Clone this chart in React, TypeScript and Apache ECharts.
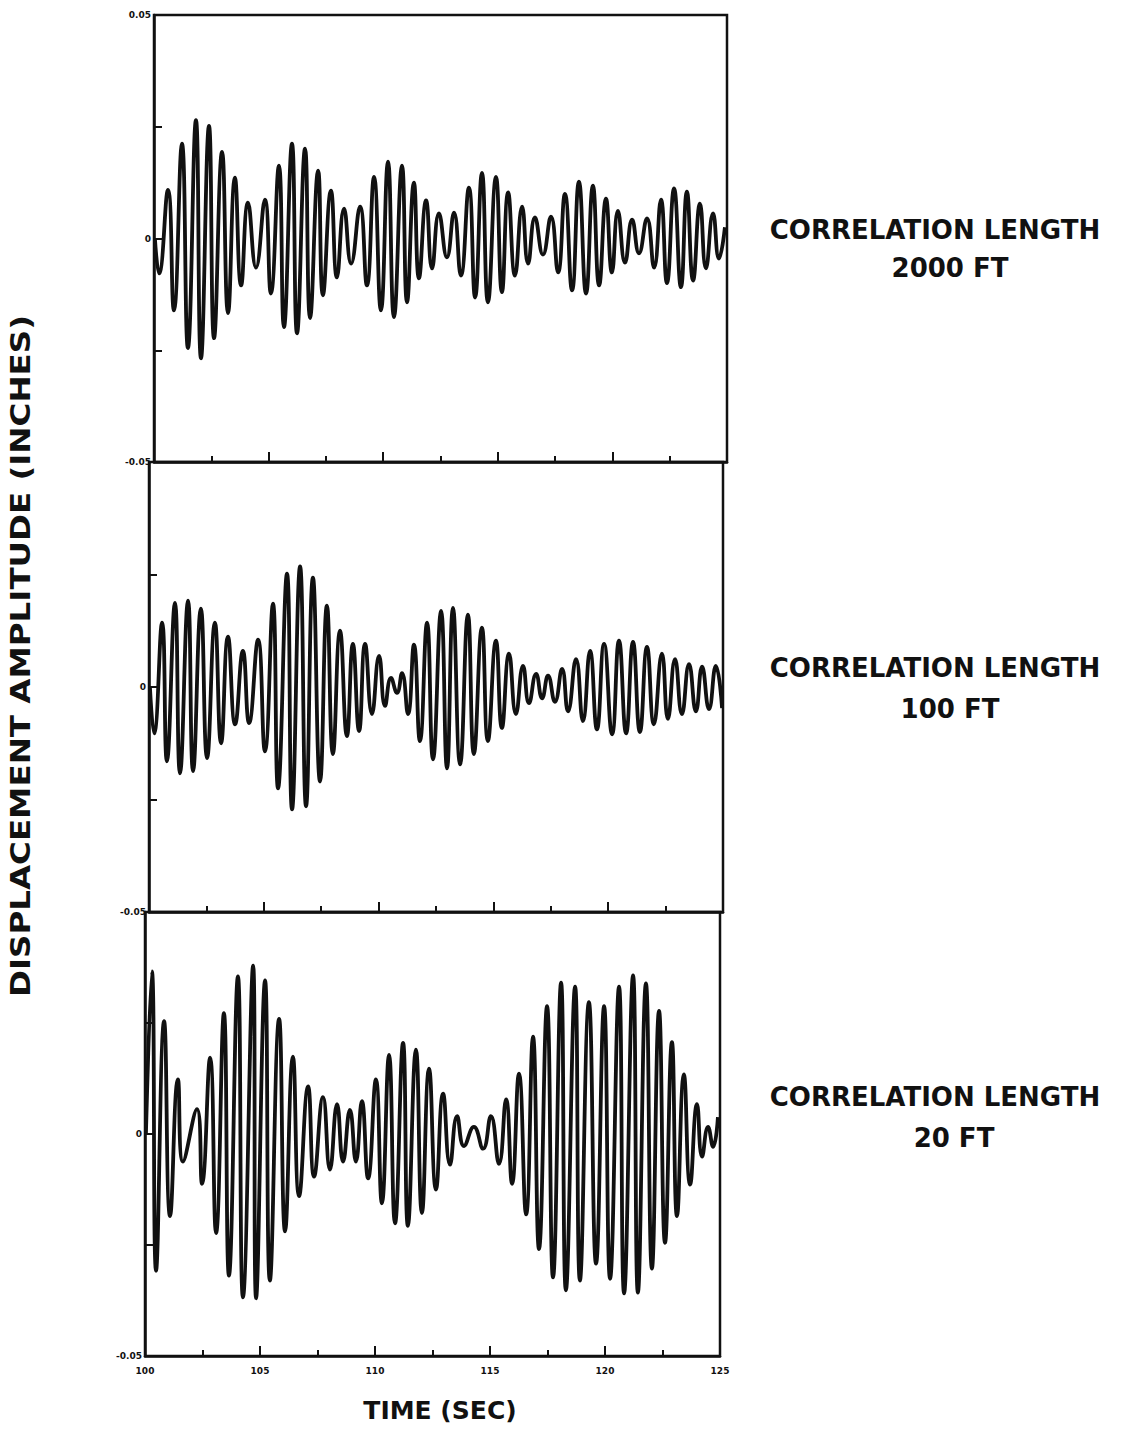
import React, { useEffect, useRef } from "react";
import * as echarts from "echarts";

// Peak / trough readings (time in seconds, displacement in inches) for each record.
const time2000 = [100.04, 100.22, 100.61, 100.87, 101.22, 101.48, 101.83, 102.05, 102.4, 102.62, 102.97, 103.23, 103.53, 103.8, 104.1, 104.45, 104.84, 105.1, 105.45, 105.67, 106.02, 106.24, 106.59, 106.81, 107.16, 107.37, 107.72, 107.98, 108.29, 108.6, 108.99, 109.29, 109.6, 109.9, 110.21, 110.47, 110.82, 111.04, 111.34, 111.56, 111.87, 112.13, 112.43, 112.78, 113.09, 113.39, 113.74, 114.01, 114.31, 114.57, 114.92, 115.18, 115.45, 115.75, 116.06, 116.32, 116.62, 116.97, 117.32, 117.63, 117.93, 118.24, 118.54, 118.85, 119.15, 119.42, 119.72, 119.98, 120.24, 120.55, 120.86, 121.16, 121.51, 121.82, 122.12, 122.38, 122.69, 122.99, 123.25, 123.52, 123.82, 124.08, 124.39, 124.65, 124.91];
const disp2000 = [0, -0.0078, 0.0109, -0.0161, 0.0212, -0.0245, 0.0265, -0.0268, 0.0252, -0.0223, 0.0194, -0.0167, 0.0136, -0.0105, 0.008, -0.0065, 0.0087, -0.0123, 0.0163, -0.0198, 0.0212, -0.0212, 0.0201, -0.0178, 0.0152, -0.0127, 0.0107, -0.0087, 0.0067, -0.0056, 0.0071, -0.0105, 0.0138, -0.0161, 0.0172, -0.0176, 0.0163, -0.0143, 0.0125, -0.0089, 0.0085, -0.0067, 0.0056, -0.0042, 0.0058, -0.0083, 0.0114, -0.0132, 0.0147, -0.0143, 0.0138, -0.012, 0.0103, -0.0083, 0.0071, -0.0056, 0.0047, -0.0036, 0.0049, -0.0076, 0.01, -0.0116, 0.0127, -0.0123, 0.0118, -0.0105, 0.0089, -0.0076, 0.0062, -0.0054, 0.0042, -0.0033, 0.0045, -0.0065, 0.0087, -0.01, 0.0112, -0.0109, 0.0105, -0.0094, 0.0078, -0.0067, 0.0056, -0.0045, 0.0025];

const time100 = [100.04, 100.22, 100.57, 100.78, 101.13, 101.35, 101.7, 101.92, 102.26, 102.53, 102.87, 103.14, 103.44, 103.75, 104.09, 104.36, 104.75, 105.05, 105.4, 105.62, 106.01, 106.23, 106.58, 106.84, 107.14, 107.45, 107.75, 108.01, 108.32, 108.62, 108.88, 109.15, 109.41, 109.71, 110.02, 110.28, 110.54, 110.8, 111.02, 111.28, 111.54, 111.8, 112.11, 112.37, 112.72, 112.98, 113.24, 113.55, 113.89, 114.15, 114.5, 114.76, 115.11, 115.37, 115.68, 115.98, 116.29, 116.55, 116.86, 117.12, 117.38, 117.68, 117.99, 118.25, 118.6, 118.9, 119.21, 119.51, 119.82, 120.17, 120.47, 120.78, 121.08, 121.38, 121.69, 121.99, 122.34, 122.6, 122.91, 123.21, 123.52, 123.82, 124.09, 124.39, 124.69, 124.96];
const disp100 = [0, -0.0103, 0.0143, -0.0165, 0.0187, -0.0192, 0.0192, -0.0187, 0.0174, -0.0158, 0.0143, -0.0125, 0.0112, -0.0083, 0.008, -0.008, 0.0105, -0.0143, 0.0185, -0.0225, 0.0252, -0.0272, 0.0268, -0.0265, 0.0243, -0.021, 0.0181, -0.0149, 0.0125, -0.0109, 0.0096, -0.0098, 0.0096, -0.006, 0.0069, -0.0042, 0.002, -0.0013, 0.0031, -0.006, 0.0094, -0.012, 0.0143, -0.0161, 0.0169, -0.0181, 0.0176, -0.0172, 0.0161, -0.0149, 0.0132, -0.012, 0.0103, -0.0091, 0.0074, -0.006, 0.0047, -0.0036, 0.0029, -0.0025, 0.0025, -0.0033, 0.004, -0.0054, 0.0062, -0.0076, 0.008, -0.0094, 0.0096, -0.0105, 0.0103, -0.0103, 0.01, -0.01, 0.0089, -0.0083, 0.0074, -0.0071, 0.0062, -0.006, 0.0051, -0.0054, 0.0045, -0.0049, 0.0047, -0.0047];

const time20 = [100.04, 100.3, 100.48, 100.83, 101.09, 101.43, 101.65, 102.26, 102.48, 102.83, 103.09, 103.43, 103.65, 104.04, 104.26, 104.7, 104.83, 105.22, 105.43, 105.83, 106.09, 106.43, 106.7, 107.09, 107.35, 107.74, 108.04, 108.35, 108.61, 108.91, 109.17, 109.43, 109.7, 110.04, 110.3, 110.61, 110.87, 111.22, 111.43, 111.78, 112.04, 112.35, 112.65, 112.96, 113.26, 113.57, 113.87, 114.3, 114.7, 115.04, 115.39, 115.7, 115.96, 116.26, 116.57, 116.87, 117.13, 117.48, 117.74, 118.09, 118.3, 118.7, 118.91, 119.3, 119.61, 119.96, 120.22, 120.61, 120.83, 121.22, 121.43, 121.78, 122.04, 122.35, 122.61, 122.91, 123.13, 123.43, 123.7, 124.0, 124.22, 124.48, 124.7, 124.91];
const disp20 = [0, 0.0366, -0.0308, 0.0254, -0.0185, 0.0123, -0.0062, 0.0056, -0.0112, 0.0172, -0.0223, 0.0272, -0.0319, 0.0355, -0.0368, 0.0379, -0.037, 0.0346, -0.033, 0.0259, -0.0219, 0.0174, -0.014, 0.0107, -0.0096, 0.0083, -0.008, 0.0067, -0.0062, 0.0054, -0.0062, 0.0074, -0.01, 0.0123, -0.0156, 0.0178, -0.0201, 0.0205, -0.0207, 0.019, -0.0178, 0.0147, -0.0125, 0.0091, -0.0069, 0.004, -0.0027, 0.0016, -0.0033, 0.004, -0.0067, 0.0078, -0.0112, 0.0136, -0.0181, 0.0219, -0.0259, 0.0288, -0.0323, 0.0341, -0.0352, 0.0332, -0.033, 0.0297, -0.0292, 0.0288, -0.0326, 0.0332, -0.0359, 0.0357, -0.0357, 0.0339, -0.0303, 0.0277, -0.0245, 0.0207, -0.0185, 0.0134, -0.0114, 0.0067, -0.0051, 0.0016, -0.0029, 0.0038];

const panelCaptions = ["CORRELATION LENGTH", "CORRELATION LENGTH", "CORRELATION LENGTH"];
const panelLengths = ["2000 FT", "100 FT", "20 FT"];
const timeRange = [100, 125];
const ampRange = [-0.05, 0.05];
const yTitle = "DISPLACEMENT AMPLITUDE (INCHES)";
const xTitle = "TIME (SEC)";

const INK = "#111";
const FONT = "DejaVu Sans";

export default function App() {
  const ref = useRef<HTMLDivElement>(null);

  useEffect(() => {
    if (!ref.current) return;
    const chart = echarts.init(ref.current, null, { renderer: "svg" });

    const records = [
      { t: time2000, d: disp2000 },
      { t: time100, d: disp100 },
      { t: time20, d: disp20 },
    ];
    // panel boxes (left, top, width, height)
    const boxes = [
      { left: 154, top: 15, width: 573, height: 447 },
      { left: 149, top: 462, width: 574, height: 450 },
      { left: 145, top: 912, width: 575, height: 444 },
    ];

    const grids = boxes.map((b) => ({
      left: b.left,
      top: b.top,
      width: b.width,
      height: b.height,
      show: true,
      borderColor: INK,
      borderWidth: 2.5,
      backgroundColor: "transparent",
    }));

    const xAxes = boxes.map((_, i) => ({
      type: "value",
      gridIndex: i,
      min: timeRange[0],
      max: timeRange[1],
      interval: 5,
      axisLine: { show: true, onZero: false, lineStyle: { color: INK, width: 2.5 } },
      axisTick: { show: true, inside: true, length: 10, lineStyle: { color: INK, width: 2 } },
      minorTick: { show: true, splitNumber: 2, length: 6, lineStyle: { color: INK, width: 2 } },
      splitLine: { show: false },
      axisLabel: {
        show: i === 2,
        color: INK,
        fontFamily: FONT,
        fontWeight: "bold",
        fontSize: 9,
        margin: 10,
      },
    }));

    const yAxes = boxes.map((_, i) => ({
      type: "value",
      gridIndex: i,
      min: ampRange[0],
      max: ampRange[1],
      interval: 0.025,
      axisLine: { show: true, onZero: false, lineStyle: { color: INK, width: 2.5 } },
      axisTick: { show: true, inside: true, length: 8, lineStyle: { color: INK, width: 2 } },
      splitLine: { show: false },
      axisLabel: {
        color: INK,
        fontFamily: FONT,
        fontWeight: "bold",
        fontSize: 9,
        margin: 3,
        formatter: (v: number) => {
          if (Math.abs(v) < 1e-9) return "0";
          if (Math.abs(v - ampRange[0]) < 1e-9) return "-0.05";
          if (i === 0 && Math.abs(v - ampRange[1]) < 1e-9) return "0.05";
          return "";
        },
      },
    }));

    const series = records.map((r, i) => ({
      type: "line",
      xAxisIndex: i,
      yAxisIndex: i,
      data: r.t.map((t, k) => [t, r.d[k]]),
      smooth: 0.5,
      symbol: "none",
      lineStyle: { color: INK, width: 3.8 },
      z: 3,
    }));

    const captionY = [230, 668, 1097];
    const lengthY = [268, 709, 1138];
    const lengthX = [950, 950, 954];
    const graphics: any[] = [];
    boxes.forEach((_, i) => {
      graphics.push({
        type: "text",
        x: 935,
        y: captionY[i],
        style: {
          text: panelCaptions[i],
          fill: INK,
          font: `bold 26px "${FONT}"`,
          textAlign: "center",
          textVerticalAlign: "middle",
        },
      });
      graphics.push({
        type: "text",
        x: lengthX[i],
        y: lengthY[i],
        style: {
          text: panelLengths[i],
          fill: INK,
          font: `bold 26px "${FONT}"`,
          textAlign: "center",
          textVerticalAlign: "middle",
        },
      });
    });
    // vertical axis title, stretched along its reading direction
    graphics.push({
      type: "text",
      x: 21,
      y: 656,
      rotation: Math.PI / 2,
      scaleX: 1.25,
      style: {
        text: yTitle,
        fill: INK,
        font: `bold 26px "${FONT}"`,
        textAlign: "center",
        textVerticalAlign: "middle",
      },
    });
    graphics.push({
      type: "text",
      x: 440,
      y: 1410,
      style: {
        text: xTitle,
        fill: INK,
        font: `bold 25px "${FONT}"`,
        textAlign: "center",
        textVerticalAlign: "middle",
      },
    });

    chart.setOption({
      animation: false,
      backgroundColor: "#fff",
      grid: grids,
      xAxis: xAxes,
      yAxis: yAxes,
      series,
      graphic: graphics,
    });

    return () => chart.dispose();
  }, []);

  return (
    <div
      ref={ref}
      style={{ position: "absolute", left: 0, top: 0, width: 1121, height: 1429 }}
    />
  );
}
